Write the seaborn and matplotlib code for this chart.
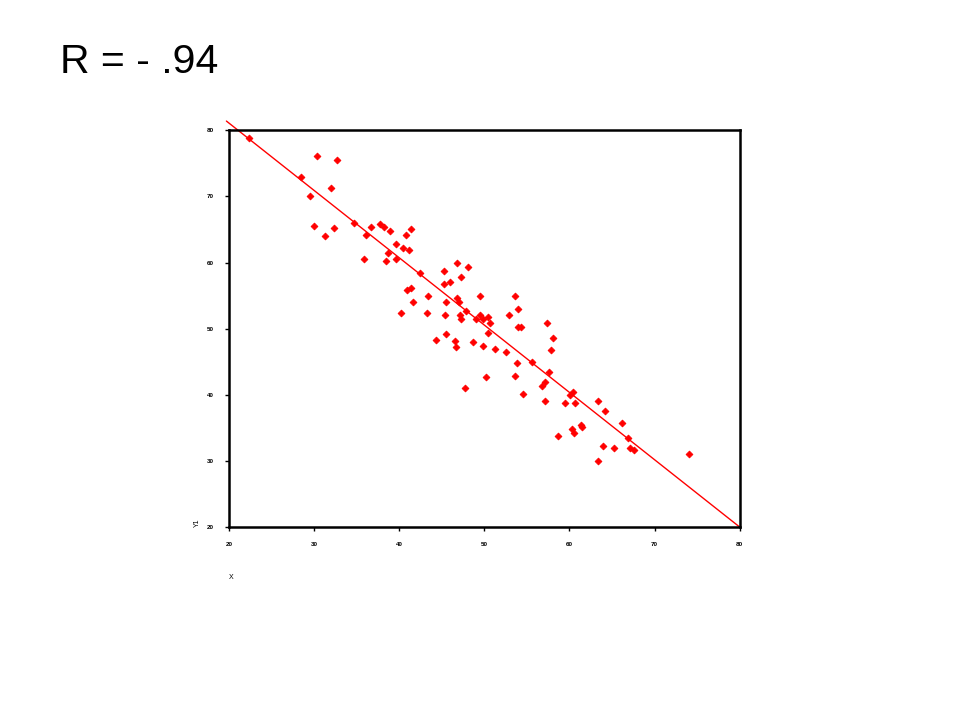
import numpy as np
import pandas as pd
import matplotlib
matplotlib.use("Agg")
import matplotlib.pyplot as plt
import seaborn as sns

# scatter values
x_vals = [22.4, 30.3, 32.7, 28.5, 32.0, 29.5, 30.0, 32.3, 31.3, 34.7,
          36.1, 36.7, 37.7, 38.2, 38.9, 41.4, 40.8, 39.6, 40.4, 41.1,
          35.9, 38.7, 38.4, 39.6, 42.4, 45.3, 46.8, 48.1, 47.3, 45.3,
          46.0, 40.9, 41.4, 43.4, 41.6, 46.8, 47.0, 49.5, 45.5, 53.6,
          53.9, 40.2, 43.3, 45.4, 47.2, 47.3, 47.8, 49.0, 49.5, 49.9,
          50.4, 50.7, 52.9, 53.9, 54.3, 57.4, 58.1, 57.8, 45.5, 44.3,
          46.5, 46.7, 48.7, 50.4, 49.9, 51.2, 52.5, 53.8, 55.6, 53.6,
          50.2, 47.7, 57.6, 57.1, 56.8, 54.6, 57.1, 60.4, 60.1, 59.5,
          60.6, 63.4, 64.2, 66.2, 61.3, 61.5, 60.3, 60.5, 58.6, 66.9,
          64.0, 65.2, 67.1, 67.6, 63.4, 74.0]
y_vals = [78.9, 76.1, 75.5, 72.9, 71.3, 70.1, 65.6, 65.3, 64.0, 66.0,
          64.1, 65.4, 65.8, 65.4, 64.7, 65.1, 64.1, 62.8, 62.2, 61.9,
          60.6, 61.4, 60.3, 60.5, 58.4, 58.7, 60.0, 59.4, 57.8, 56.8,
          57.1, 55.8, 56.2, 55.0, 54.0, 54.6, 54.1, 55.0, 54.0, 54.9,
          53.0, 52.4, 52.4, 52.0, 52.0, 51.5, 52.6, 51.5, 52.0, 51.5,
          51.8, 50.8, 52.1, 50.2, 50.2, 50.8, 48.6, 46.7, 49.2, 48.3,
          48.1, 47.2, 48.0, 49.3, 47.4, 47.0, 46.4, 44.8, 44.9, 42.9,
          42.7, 41.0, 43.5, 42.0, 41.4, 40.1, 39.1, 40.4, 39.9, 38.8,
          38.8, 39.1, 37.5, 35.7, 35.4, 35.1, 34.8, 34.2, 33.8, 33.5,
          32.2, 31.9, 32.0, 31.6, 30.0, 31.0]

# fit line endpoints
fit_x = [19.7, 80.0]
fit_y = [81.4, 20.0]

ticks = [20, 30, 40, 50, 60, 70, 80]

sns.set_style("white")
plt.rcParams['font.family'] = ['Liberation Sans', 'DejaVu Sans']
plt.rcParams['text.color'] = 'black'
plt.rcParams['axes.labelcolor'] = 'black'
plt.rcParams['xtick.color'] = 'black'
plt.rcParams['ytick.color'] = 'black'

df = pd.DataFrame({"X": x_vals, "Y1": y_vals})

fig = plt.figure(figsize=(9.6, 7.2), dpi=100)
ax = fig.add_axes([0.2385, 0.268, 0.532, 0.551])

sns.scatterplot(data=df, x="X", y="Y1", ax=ax, color="#ff0000", marker="D",
                s=12, edgecolor="#ff0000", linewidth=0.6)
line = ax.plot(fit_x, fit_y, color="#ff0000", linewidth=1.0)
line[0].set_clip_on(False)

ax.set_xlim(20, 80)
ax.set_ylim(20, 80)
ax.set_xticks(ticks)
ax.set_yticks(ticks)
ax.tick_params(axis="both", direction="out", length=3, width=1, labelsize=4.5,
               pad=8, bottom=True, left=True)
for lab in ax.get_xticklabels() + ax.get_yticklabels():
    lab.set_fontweight("bold")

for sp in ax.spines.values():
    sp.set_visible(True)
    sp.set_color("black")
    sp.set_linewidth(1.8)

ax.set_xlabel("X", loc="left", fontsize=5, labelpad=19)
ax.set_ylabel("Y1", loc="bottom", fontsize=5, labelpad=4)

fig.text(0.0625, 0.899, "R = - .94", fontsize=29.5, ha="left", va="baseline",
         color="black")

fig.savefig("out.png", dpi=100, facecolor="white")
